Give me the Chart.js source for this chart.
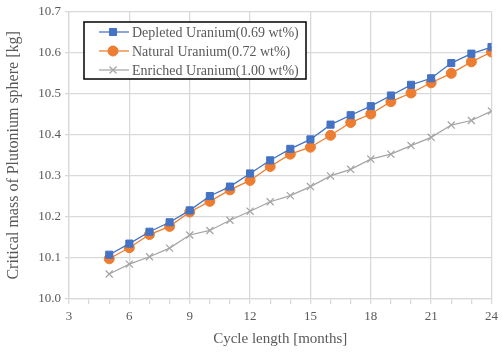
<!DOCTYPE html>
<html>
<head>
<meta charset="utf-8">
<script src="https://cdn.jsdelivr.net/npm/chart.js@4.4.1/dist/chart.umd.min.js"></script>
<style>
	html, body { margin: 0; padding: 0; background: #ffffff; }
	#wrap { width: 503px; height: 352px; }
</style>
</head>
<body>
<div id="wrap"><canvas id="chart" width="503" height="352"></canvas></div>
<script>

const cycleMonths = [ 5, 6, 7, 8, 9, 10, 11, 12, 13, 14, 15, 16, 17, 18, 19, 20, 21, 22, 23, 24 ];

const depleted = [ 10.108, 10.135, 10.164, 10.187, 10.216, 10.251, 10.274, 10.306, 10.338, 10.366, 10.389,
	10.425, 10.448, 10.470, 10.496, 10.522, 10.538, 10.575, 10.598, 10.614 ];

const natural = [ 10.098, 10.125, 10.157, 10.177, 10.212, 10.238, 10.266, 10.289, 10.323, 10.353, 10.370,
	10.399, 10.430, 10.451, 10.481, 10.502, 10.527, 10.550, 10.578, 10.602 ];

const enriched = [ 10.061, 10.085, 10.103, 10.124, 10.156, 10.167, 10.192, 10.214, 10.237, 10.252, 10.274,
	10.300, 10.316, 10.341, 10.353, 10.374, 10.394, 10.424, 10.435, 10.458 ];

const seriesNames = [ 'Depleted Uranium(0.69 wt%)', 'Natural Uranium(0.72 wt%)', 'Enriched Uranium(1.00 wt%)' ];

const textGrey = '#595959';
const gridGrey = '#d9d9d9';
const serif = '"Liberation Serif", "Times New Roman", serif';

function points ( values ) {

	return values.map( ( v, i ) => ( { x: cycleMonths[ i ], y: v } ) );

}

// legend box sits inside the plot, like the spreadsheet original
const boxLegend = {
	id: 'boxLegend',
	afterDraw ( chart ) {

		const ctx = chart.ctx;
		const left = 84, top = 22, width = 222, height = 57;

		ctx.save();
		ctx.fillStyle = '#ffffff';
		ctx.fillRect( left, top, width, height );
		ctx.strokeStyle = '#000000';
		ctx.lineWidth = 1.5;
		ctx.strokeRect( left, top, width, height );

		chart.data.datasets.forEach( ( ds, i ) => {

			const y = 32 + i * 19;

			ctx.strokeStyle = ds.borderColor;
			ctx.lineWidth = 1.25;
			ctx.beginPath();
			ctx.moveTo( 99, y );
			ctx.lineTo( 129, y );
			ctx.stroke();

			ctx.fillStyle = ds.backgroundColor;
			ctx.strokeStyle = ds.borderColor;
			ctx.lineWidth = ds.pointBorderWidth;
			Chart.helpers.drawPoint( ctx, {
				pointStyle: ds.pointStyle,
				radius: ds.pointRadius,
				borderWidth: ds.pointBorderWidth
			}, 113, y );

			ctx.fillStyle = textGrey;
			ctx.font = '14px ' + serif;
			ctx.textBaseline = 'middle';
			ctx.textAlign = 'left';
			ctx.fillText( ds.label, 132, y + 1 );

		} );

		ctx.restore();

	}
};

const config = {
	type: 'line',
	data: {
		datasets: [ {
			label: seriesNames[ 0 ],
			data: points( depleted ),
			borderColor: '#4472c4',
			backgroundColor: '#4472c4',
			pointStyle: 'rect',
			pointRadius: 5,
			pointBorderWidth: 1,
			borderWidth: 1.25
		}, {
			label: seriesNames[ 1 ],
			data: points( natural ),
			borderColor: '#ed7d31',
			backgroundColor: '#ed7d31',
			pointStyle: 'circle',
			pointRadius: 5,
			pointBorderWidth: 1,
			borderWidth: 1.25
		}, {
			label: seriesNames[ 2 ],
			data: points( enriched ),
			borderColor: '#a5a5a5',
			backgroundColor: '#a5a5a5',
			pointStyle: 'crossRot',
			pointRadius: 5,
			pointBorderWidth: 1.25,
			borderWidth: 1.25
		} ]
	},
	options: {
		responsive: false,
		animation: false,
		layout: {
			padding: { left: 4, right: 5, top: 10, bottom: 4 }
		},
		plugins: {
			legend: { display: false },
			tooltip: { enabled: false }
		},
		scales: {
			x: {
				type: 'linear',
				min: 3,
				max: 24,
				afterFit ( scale ) { scale.height = 49; },
				ticks: {
					stepSize: 1,
					autoSkip: false,
					maxRotation: 0,
					color: textGrey,
					font: { family: serif, size: 13 },
					padding: 5,
					callback: v => v % 3 === 0 ? v : ''
				},
				grid: {
					color: ctx => ctx.tick && ctx.tick.value % 3 === 0 ? gridGrey : 'rgba(0,0,0,0)',
					tickColor: gridGrey,
					tickLength: 5,
					lineWidth: 1.3
				},
				border: { color: gridGrey, width: 1.3 },
				title: {
					display: true,
					text: 'Cycle length [months]',
					color: textGrey,
					font: { family: serif, size: 15 },
					padding: { top: 1, bottom: 0 }
				}
			},
			y: {
				min: 10.0,
				max: 10.7,
				afterFit ( scale ) { scale.width = 65; },
				ticks: {
					stepSize: 0.1,
					color: textGrey,
					font: { family: serif, size: 13 },
					padding: 4,
					callback: v => v.toFixed( 1 )
				},
				grid: {
					color: gridGrey,
					tickColor: gridGrey,
					tickLength: 4,
					lineWidth: 1.3
				},
				border: { color: gridGrey, width: 1.3 },
				title: {
					display: true,
					text: 'Critical mass of Plutonium sphere [kg]',
					color: textGrey,
					font: { family: serif, size: 16 },
					padding: { top: 0, bottom: 1 }
				}
			}
		}
	},
	plugins: [ boxLegend ]
};

new Chart( document.getElementById( 'chart' ), config );

</script>
</body>
</html>
